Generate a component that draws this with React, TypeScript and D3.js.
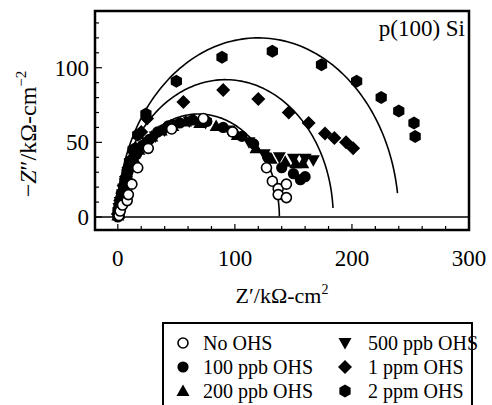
import React from "react";
import * as d3 from "d3";

const xTicks = [0, 100, 200, 300];
const yTicks = [0, 50, 100];

const noOHS: [number, number][] = [[1,1],[2,4],[4,8],[8,11],[9,15],[12,22],[17,33],[26,46],[46,59],[73,66],[98,57],[127,33],[132,24],[137,19],[144,22],[137,15],[144,13]];
const ppb100: [number, number][] = [[0,0],[0,4],[1,8],[2,12],[3,16],[5,21],[7,26],[9,31],[12,36],[16,42],[21,48],[27,52],[34,57],[43,61],[53,63],[64,65],[76,64],[90,60],[106,54],[116,49],[128,40],[140,33],[150,29],[156,25],[160,27]];
const ppb200: [number, number][] = [[0,1],[1,6],[2,10],[3,14],[5,18],[6,23],[8,28],[11,34],[14,39],[18,45],[23,49],[29,54],[37,58],[47,61],[58,64],[70,63],[84,61],[102,55],[118,46],[131,39],[143,37],[152,36],[158,36]];
const ppb500: [number, number][] = [[1,2],[1,6],[2,10],[4,15],[5,19],[7,24],[9,29],[12,34],[15,39],[19,44],[25,50],[32,54],[40,58],[50,62],[61,64],[75,63],[95,58],[112,50],[125,42],[138,40],[150,39],[160,39],[167,38]];
const ppm1: [number, number][] = [[0,2],[1,6],[2,11],[4,16],[5,21],[7,27],[9,33],[12,39],[15,46],[20,57],[25,66],[56,77],[90,85],[120,79],[146,70],[163,63],[177,56],[185,53],[195,50],[201,46]];
const ppm2: [number, number][] = [[1,1],[2,6],[3,12],[5,18],[6,24],[8,30],[10,37],[13,45],[17,55],[24,69],[50,91],[89,107],[132,111],[174,102],[204,91],[225,80],[240,71],[253,63],[254,54]];

// fitted semicircles: centre x, radius, y where the right end stops
const fitCx = [120, 92, 69];
const fitR = [120, 92, 69];
const fitYEnd = [16, 6, 0.5];

const W = 492, H = 405;
const x = d3.scaleLinear().domain([-19.5, 300]).range([95, 469]);
const y = d3.scaleLinear().domain([-8.7, 138]).range([230, 11]);

type Shape = "openCircle" | "circle" | "triUp" | "triDown" | "diamond" | "hex";

function Marker({ shape, cx, cy }: { shape: Shape; cx: number; cy: number }) {
  switch (shape) {
    case "openCircle":
      return <circle cx={cx} cy={cy} r={5} fill="white" stroke="black" strokeWidth={1.6} />;
    case "circle":
      return <circle cx={cx} cy={cy} r={5.6} fill="black" />;
    case "triUp":
      return <path d={`M${cx},${cy - 6.5}L${cx + 6.5},${cy + 5}L${cx - 6.5},${cy + 5}Z`} fill="black" />;
    case "triDown":
      return <path d={`M${cx},${cy + 6.5}L${cx + 6.5},${cy - 5}L${cx - 6.5},${cy - 5}Z`} fill="black" />;
    case "diamond":
      return <path d={`M${cx},${cy - 7}L${cx + 7},${cy}L${cx},${cy + 7}L${cx - 7},${cy}Z`} fill="black" />;
    case "hex": {
      const pts = d3.range(6).map((i) => {
        const a = (Math.PI / 3) * i - Math.PI / 2;
        return [cx + 6.5 * Math.cos(a), cy + 6.5 * Math.sin(a)];
      });
      return <path d={"M" + pts.map((p) => p.join(",")).join("L") + "Z"} fill="black" />;
    }
  }
}

const series: { name: string; shape: Shape; data: [number, number][] }[] = [
  { name: "2 ppm OHS", shape: "hex", data: ppm2 },
  { name: "1 ppm OHS", shape: "diamond", data: ppm1 },
  { name: "500 ppb OHS", shape: "triDown", data: ppb500 },
  { name: "200 ppb OHS", shape: "triUp", data: ppb200 },
  { name: "100 ppb OHS", shape: "circle", data: ppb100 },
  { name: "No OHS", shape: "openCircle", data: noOHS },
];

const legendLeft = [
  { name: "No OHS", shape: "openCircle" as Shape },
  { name: "100 ppb OHS", shape: "circle" as Shape },
  { name: "200 ppb OHS", shape: "triUp" as Shape },
];
const legendRight = [
  { name: "500 ppb OHS", shape: "triDown" as Shape },
  { name: "1 ppm OHS", shape: "diamond" as Shape },
  { name: "2 ppm OHS", shape: "hex" as Shape },
];

export default function App() {
  const line = d3.line<[number, number]>().x((d) => x(d[0])).y((d) => y(d[1]));
  const arcs = fitCx.map((cx, i) => {
    const r = fitR[i];
    const endA = Math.asin(fitYEnd[i] / r);
    const pts: [number, number][] = d3.range(0, 121).map((k) => {
      const a = Math.PI - (k / 120) * (Math.PI - endA);
      return [cx + r * Math.cos(a), r * Math.sin(a)];
    });
    return line(pts) as string;
  });
  const minorX = d3.range(0, 301, 20);
  const minorY = d3.range(0, 131, 10);
  const font = "Liberation Serif";
  return (
    <svg width={W} height={H} style={{ position: "absolute", left: 0, top: 0, background: "white" }} fontFamily={font}>
      <rect x={0} y={0} width={W} height={H} fill="white" />
      <line x1={x(-19.5)} x2={x(300)} y1={y(0)} y2={y(0)} stroke="black" strokeWidth={1.5} />
      {minorX.map((v) => (
        <line key={"tx" + v} x1={x(v)} x2={x(v)} y1={230} y2={v % 100 === 0 ? 224 : 226} stroke="black" strokeWidth={1.2} />
      ))}
      {minorY.map((v) => (
        <line key={"ty" + v} x1={95} x2={v % 50 === 0 ? 102 : 99} y1={y(v)} y2={y(v)} stroke="black" strokeWidth={1.2} />
      ))}
      {arcs.map((d, i) => (
        <path key={"arc" + i} d={d} fill="none" stroke="black" strokeWidth={1.6} />
      ))}
      {series.map((s) =>
        s.data.map((p, j) => <Marker key={s.name + j} shape={s.shape} cx={x(p[0])} cy={y(p[1])} />)
      )}
      <rect x={95} y={11} width={374} height={219} fill="none" stroke="black" strokeWidth={2.5} />
      {xTicks.map((v) => (
        <text key={"xl" + v} x={x(v)} y={266} textAnchor="middle" fontSize={23}>{v}</text>
      ))}
      {yTicks.map((v) => (
        <text key={"yl" + v} x={89} y={y(v) + 8} textAnchor="end" fontSize={23}>{v}</text>
      ))}
      <text x={465} y={36} textAnchor="end" fontSize={23}>p(100) Si</text>
      <text x={282} y={303} textAnchor="middle" fontSize={22}>
        Z′/kΩ-cm<tspan dy={-9} fontSize={14}>2</tspan>
      </text>
      <text transform="translate(36,134) rotate(-90)" textAnchor="middle" fontSize={24}>
        −<tspan fontStyle="italic">Z</tspan>″/kΩ-cm<tspan dy={-10} fontSize={15}>−2</tspan>
      </text>
      <rect x={163} y={323} width={309} height={84} fill="white" stroke="black" strokeWidth={2} />
      {legendLeft.map((l, i) => (
        <g key={l.name}>
          <Marker shape={l.shape} cx={183} cy={343 + i * 24} />
          <text x={203} y={350 + i * 24} fontSize={20}>{l.name}</text>
        </g>
      ))}
      {legendRight.map((l, i) => (
        <g key={l.name}>
          <Marker shape={l.shape} cx={345} cy={343 + i * 24} />
          <text x={368} y={350 + i * 24} fontSize={20}>{l.name}</text>
        </g>
      ))}
    </svg>
  );
}
